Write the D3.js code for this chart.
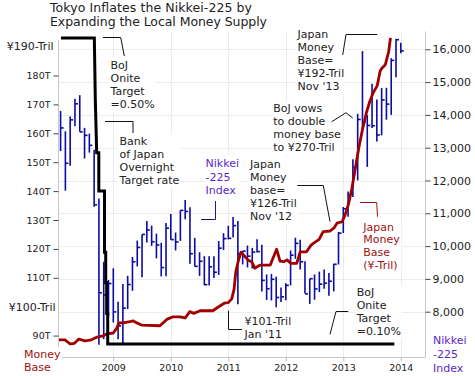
<!DOCTYPE html>
<html><head><meta charset="utf-8">
<script src="https://cdn.jsdelivr.net/npm/d3@7"></script>
<style>
body{margin:0;background:#fff;}
svg{display:block;font-family:"DejaVu Sans",Verdana,sans-serif;}
</style></head><body>
<svg id="c" width="475" height="376"></svg>
<script>
// ---------------- DATA ----------------
const nikkeiMonths = [
 "2008-02","2008-03","2008-04","2008-05","2008-06","2008-07","2008-08","2008-09","2008-10","2008-11","2008-12",
 "2009-01","2009-02","2009-03","2009-04","2009-05","2009-06","2009-07","2009-08","2009-09","2009-10","2009-11","2009-12",
 "2010-01","2010-02","2010-03","2010-04","2010-05","2010-06","2010-07","2010-08","2010-09","2010-10","2010-11","2010-12",
 "2011-01","2011-02","2011-03","2011-04","2011-05","2011-06","2011-07","2011-08","2011-09","2011-10","2011-11","2011-12",
 "2012-01","2012-02","2012-03","2012-04","2012-05","2012-06","2012-07","2012-08","2012-09","2012-10","2012-11","2012-12",
 "2013-01","2013-02","2013-03","2013-04","2013-05","2013-06","2013-07","2013-08","2013-09","2013-10","2013-11","2013-12",
 "2014-01"];
const nikkeiHigh = [
 14120,13500,13950,14489,14601,13605,13430,12935,11451,9521,8965,
 9325,8305,8843,9094,9668,10170,10357,10767,10625,10380,10100,10707,
 10982,10414,11097,11408,11182,10251,9814,9694,9691,9691,10155,10394,
 10620,10891,10768,9849,10017,9946,10207,10041,9137,9152,9070,8740,
 8866,9866,10255,10190,9538,9006,9136,9222,9288,9180,9460,10433,
 11192,11662,12650,14034,15943,14000,14953,14466,14817,14828,15727,16320,
 16200];
const nikkeiLow = [
 12900,11691,12450,13653,13488,12670,12850,11198,6994,7162,7875,
 7671,7160,7021,8084,8636,9379,9050,10111,10009,9628,9076,9082,
 10197,9868,10158,10819,9459,9380,9091,8807,8796,9027,9123,9880,
 10204,10266,8227,9441,9351,9318,9802,8619,8359,8343,8135,8296,
 8349,8802,9615,9289,8556,8238,8365,8598,8700,8488,8619,9440,
 10398,10898,11498,12003,13555,12416,13600,13188,13378,13853,14000,15149,
 15880];
const nikkeiClose = [
 13603,12525,13849,14338,13481,13376,13072,11259,8576,8512,8859,
 7994,7568,8109,8828,9522,9958,10356,10492,10133,10034,9345,10546,
 10198,10126,11089,11057,9768,9382,9537,8824,9369,9202,9937,10228,
 10237,10624,9755,9849,9693,9816,9833,8955,8700,8988,8434,8455,
 8802,9723,10083,9521,8543,9007,8695,8840,8870,8928,9446,10395,
 11139,11559,12398,13861,13775,13677,13668,13389,14456,14328,15662,16291,
 15950];

// Japan money base (trillion yen), date as decimal year
const moneyBaseDates = [2008.056,2008.16,2008.25,2008.32,2008.40,2008.51,2008.60,2008.72,2008.82,2008.89,2009.0,
 2009.06,2009.10,2009.17,2009.29,2009.34,2009.41,2009.50,2009.81,2009.93,2010.04,2010.16,2010.25,2010.33,2010.40,
 2010.51,2010.73,2010.82,2010.93,2011.0,2011.06,2011.10,2011.13,2011.17,2011.22,2011.29,2011.34,2011.41,2011.46,
 2011.55,2011.73,2011.80,2011.84,2011.90,2011.97,2012.02,2012.09,2012.19,2012.25,2012.36,2012.44,2012.49,2012.58,
 2012.65,2012.77,2012.84,2012.89,2012.98,2013.03,2013.09,2013.15,2013.21,2013.27,2013.33,2013.40,2013.46,2013.52,
 2013.59,2013.64,2013.67,2013.73,2013.76,2013.79,2013.82];
const moneyBaseValues = [88.5,88.5,87.1,87.3,88.8,88.2,88.4,89.5,89.9,90.6,90.9,
 92.6,94.4,94.4,94.8,95.1,94.4,93.6,93.4,95.6,96.5,96.5,96.1,98.3,97.7,
 98.6,98.6,99.8,101.2,101.4,102.7,106,112,115.5,118.9,117.3,116.2,115.5,113.3,
 114.4,114.4,117.9,119.9,115.8,115.6,116.2,115.0,115.0,119.0,119.0,121.3,122.1,123.3,
 126.0,126.2,127.3,128.9,129.4,131.7,135.5,141,148,155,161,167,171,174,
 176.5,181.5,182.5,183.7,186,188.3,193];

// BoJ overnight call rate (%)
const bojRateDates = [2008.09,2008.670,2008.687,2008.711,2008.748,2008.748,2008.847,2008.847,2008.868,2008.868,2008.885,2008.885,2008.903,2008.903,2013.887];
const bojRateValues = [0.50,0.50,0.42,0.35,0.35,0.30,0.30,0.22,0.22,0.18,0.18,0.14,0.14,0.10,0.10];

const yearTicks = [2009,2010,2011,2012,2013,2014];
const nikkeiTicks = [8000,9000,10000,11000,12000,13000,14000,15000,16000];
const moneyTicks = [90,110,120,130,140,150,160,170,180];

// ---------------- CHART ----------------
const svg = d3.select("#c");
const P = {left:58.5, right:425.5, top:31.5, bottom:357.5};
const x = d3.scaleLinear().domain([2009,2014]).range([113.3,400.8]);
const yM = d3.scaleLinear().domain([100,190]).range([306.7,46.6]);
const yN = d3.scaleLinear().domain([8000,16000]).range([311.7,49.3]);
const yR = d3.scaleLinear().domain([0.1,0.5]).range([344,38]);
const dec = s => +s.slice(0,4) + (+s.slice(5,7)-1)/12;

const grid = svg.append("g");
grid.selectAll(".vg").data(yearTicks).join("line")
  .attr("x1",d=>Math.round(x(d))+0.5).attr("x2",d=>Math.round(x(d))+0.5)
  .attr("y1",P.top).attr("y2",P.bottom).attr("stroke","#ececec");
grid.selectAll(".hg").data(nikkeiTicks).join("line")
  .attr("x1",P.left).attr("x2",P.right)
  .attr("y1",d=>Math.round(yN(d))+0.5).attr("y2",d=>Math.round(yN(d))+0.5).attr("stroke","#ececec");

// axis frame lines
grid.append("line").attr("x1",P.left).attr("x2",P.left).attr("y1",40).attr("y2",P.bottom).attr("stroke","#c8c8c8");
grid.append("line").attr("x1",P.right).attr("x2",P.right).attr("y1",P.top).attr("y2",P.bottom).attr("stroke","#c8c8c8");
grid.append("line").attr("x1",P.left).attr("x2",P.right).attr("y1",P.bottom).attr("y2",P.bottom).attr("stroke","#c8c8c8");

// axes
const axR = svg.append("g").attr("transform",`translate(${P.right},0)`)
  .call(d3.axisRight(yN).tickValues(nikkeiTicks).tickFormat(d3.format(",")).tickSize(5).tickPadding(2));
const axL = svg.append("g").attr("transform",`translate(${P.left},0)`)
  .call(d3.axisLeft(yM).tickValues(moneyTicks).tickFormat(d=>d+"T").tickSize(5).tickPadding(3));
const axB = svg.append("g").attr("transform",`translate(0,${P.bottom})`)
  .call(d3.axisBottom(x).tickValues(yearTicks).tickFormat(d3.format("d")).tickSize(4).tickPadding(3));
[axR,axL,axB].forEach(a=>{a.select(".domain").remove(); a.selectAll("text").attr("fill","#222").attr("font-family","DejaVu Sans");});
axR.selectAll("text").attr("font-size","11px");
axR.selectAll("line").attr("stroke","#444");
axL.selectAll("text").attr("font-size","9.5px");
axL.selectAll("line").attr("stroke","#444");
axB.selectAll("text").attr("font-size","9.5px");
axB.selectAll("line").attr("stroke","#bbb");

const bg = svg.append("g");
const data = svg.append("g");
const notes = svg.append("g");

function note(lines, tx, ty, sp, color, size, anchor){
  const t = notes.append("text").attr("x",tx).attr("y",ty).attr("fill",color)
    .attr("font-size",(size||11)+"px").attr("text-anchor",anchor||"start");
  lines.forEach((l,i)=>t.append("tspan").attr("x",tx).attr("y",ty+i*sp).text(l));
  const b = t.node().getBBox();
  bg.append("rect").attr("x",b.x-1).attr("y",b.y-1).attr("width",b.width+2).attr("height",b.height+2).attr("fill","#fff");
  return t;
}
function leader(pts, color){
  notes.append("path").attr("d",d3.line()(pts)).attr("fill","none").attr("stroke",color||"#111").attr("stroke-width",1);
}

// Nikkei bars
const bars = nikkeiMonths.map((m,i)=>({t:dec(m),h:nikkeiHigh[i],l:nikkeiLow[i],c:nikkeiClose[i]}));
const barColor = "#0b0ba6";
data.selectAll(".bar").data(bars).join("line")
  .attr("x1",d=>x(d.t)).attr("x2",d=>x(d.t)).attr("y1",d=>yN(d.h)).attr("y2",d=>yN(d.l))
  .attr("stroke",barColor).attr("stroke-width",1.6);
data.selectAll(".cl").data(bars).join("line")
  .attr("x1",d=>x(d.t)).attr("x2",d=>x(d.t)+3).attr("y1",d=>yN(d.c)).attr("y2",d=>yN(d.c))
  .attr("stroke",barColor).attr("stroke-width",1.6);

// Money base line
data.append("path").datum(moneyBaseDates.map((d,i)=>[d,moneyBaseValues[i]]))
  .attr("d",d3.line().x(d=>x(d[0])).y(d=>yM(d[1])))
  .attr("fill","none").attr("stroke","#a00000").attr("stroke-width",2.8).attr("stroke-linejoin","round");

// BoJ rate line
data.append("path").datum(bojRateDates.map((d,i)=>[d,bojRateValues[i]]))
  .attr("d",d3.line().x(d=>x(d[0])).y(d=>yR(d[1])))
  .attr("fill","none").attr("stroke","#000").attr("stroke-width",3);

// Title
notes.append("text").attr("x",50).attr("y",12).attr("font-size","12.5px").attr("fill","#222")
  .attr("textLength",202).attr("lengthAdjust","spacing").text("Tokyo Inflates the Nikkei-225 by");
notes.append("text").attr("x",50).attr("y",25.5).attr("font-size","12.5px").attr("fill","#222")
  .attr("textLength",217).attr("lengthAdjust","spacing").text("Expanding the Local Money Supply");

// Axis special labels
note(["¥190-Tril"],53.5,50,13,"#222",11,"end");
note(["¥100-Tril"],55.5,311,13,"#222",11,"end");
note(["Money","Base"],24,357.5,13,"#a01010",11);
note(["Nikkei","-225","Index"],433,344,14,"#5a28cc",11);

// Annotations
const ink = "#222";
note(["BoJ","Onite","Target","=0.50%"],110.5,69,13,ink);
leader([[103,37.5],[120.7,37.5],[124.3,56]]);
note(["Bank","of Japan","Overnight","Target rate"],119.5,145,13,ink);
leader([[105,121.5],[133,121.5],[133,133]]);
note(["Nikkei","-225","Index"],205.5,167,13.7,"#5a28cc");
leader([[201,219.5],[215.5,219.5],[215.5,201]],"#1a1a8c");
note(["Japan","Money","Base=","¥192-Tril","Nov '13"],297.5,38,13.1,ink);
leader([[342.7,55],[346,34.5],[377.3,34.5]]);
note(["BoJ vows","to double","money base","to ¥270-Tril"],273.3,112,12.9,ink);
leader([[331.7,121.7],[346,112.7],[352.7,118]]);
note(["Japan","Money","base=","¥126-Tril","Nov '12"],250,168,13.1,ink);
leader([[297.3,185.5],[323.3,185.5],[330,221.7]]);
note(["Japan","Money","Base","(¥-Tril)"],363.3,230.5,12.7,"#a01010");
leader([[360,202.5],[376.7,202.5],[377.5,216.7]],"#a01010");
note(["¥101-Tril","Jan '11"],244.5,325,12.5,ink);
leader([[228.5,310.7],[228.5,329.5],[242,329.5]]);
note(["BoJ","Onite","Target","=0.10%"],356.7,295.5,13,ink);
leader([[330,334.3],[336,311.5],[348.3,311.5]]);
</script>
</body></html>
